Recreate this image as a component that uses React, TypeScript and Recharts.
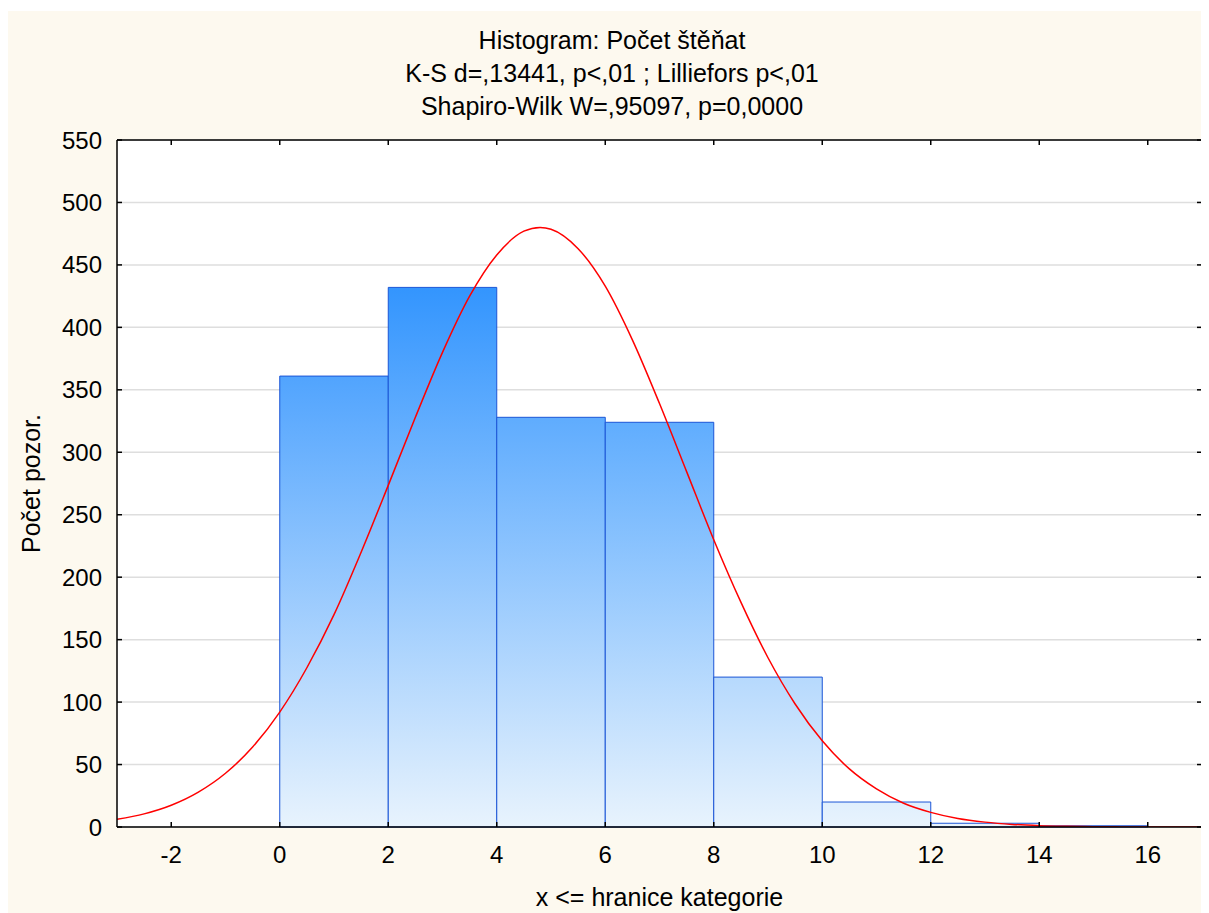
import React from 'react';
import { ComposedChart, Line, XAxis, YAxis, CartesianGrid, ReferenceArea } from 'recharts';

// histogram bins: lower / upper bound and count
const binFrom = [0, 2, 4, 6, 8, 10, 12, 14];
const binTo = [2, 4, 6, 8, 10, 12, 14, 16];
const binCounts = [361, 432, 328, 324, 120, 20, 3, 1];

// fitted normal curve
const curveX = [
  -3, -2.5, -2, -1.5, -1, -0.5, 0, 0.5, 1, 1.5, 2, 2.5, 3, 3.5, 4, 4.5, 4.8, 5, 5.5, 6, 6.5, 7,
  7.5, 8, 8.5, 9, 9.5, 10, 10.5, 11, 11.5, 12, 12.5, 13, 13.5, 14, 14.5, 15, 15.5, 16, 16.5, 17,
];
const curveY = [
  6.1, 10.5, 17.4, 27.9, 43, 64, 92, 127.5, 170, 220, 273.5, 328, 380, 425, 458, 477, 480, 478.6,
  463, 433, 390, 339, 284.5, 230, 180, 135.5, 98.5, 69, 46.5, 30.5, 19, 11.7, 6.8, 3.9, 2.1, 1.1,
  0.6, 0.3, 0.1, 0.1, 0, 0,
];

const xTicks = [-2, 0, 2, 4, 6, 8, 10, 12, 14, 16];
const yTicks = [0, 50, 100, 150, 200, 250, 300, 350, 400, 450, 500, 550];

const titleLines = [
  'Histogram: Počet štěňat',
  'K-S d=,13441, p<,01 ; Lilliefors p<,01',
  'Shapiro-Wilk W=,95097, p=0,0000',
];

const FONT = '"Liberation Sans", Arial, sans-serif';
const DARK = [0x33, 0x95, 0xfe];
const LIGHT = [0xe8, 0xf3, 0xfd];

// colour at the top of a bar, the gradient runs light -> dark with height
function mix(t: number) {
  const c = LIGHT.map((l, i) => Math.round(l + (DARK[i] - l) * t));
  return `rgb(${c[0]},${c[1]},${c[2]})`;
}

const curveData = curveX.map((x, i) => ({ x, fit: curveY[i] }));
const maxCount = Math.max(...binCounts);

function BottomTick({ x, y, payload }: any) {
  return (
    <g>
      <line x1={x} y1={y} x2={x} y2={y - 5} stroke="#000" strokeWidth={1.5} />
      <text x={x} y={y + 36} textAnchor="middle" fontSize={24} fontFamily={FONT} fill="#000">
        {payload.value}
      </text>
    </g>
  );
}

function TopTick({ x, y }: any) {
  return <line x1={x} y1={y} x2={x} y2={y + 5} stroke="#000" strokeWidth={1.5} />;
}

function LeftTick({ x, y, payload }: any) {
  return (
    <g>
      <line x1={x} y1={y} x2={x + 5} y2={y} stroke="#000" strokeWidth={1.5} />
      <text x={x - 15} y={y + 8.5} textAnchor="end" fontSize={24} fontFamily={FONT} fill="#000">
        {payload.value}
      </text>
    </g>
  );
}

function RightTick({ x, y }: any) {
  return <line x1={x} y1={y} x2={x - 5} y2={y} stroke="#000" strokeWidth={1.5} />;
}

export default function App() {
  return (
    <div
      style={{
        position: 'relative',
        width: 1201,
        height: 902,
        marginTop: 3,
        background: '#fdf9ef',
        fontFamily: FONT,
      }}
    >
      <div
        style={{
          position: 'absolute',
          top: 13,
          left: 0,
          width: 1208,
          textAlign: 'center',
          fontSize: 25,
          lineHeight: '33px',
          color: '#000',
        }}
      >
        {titleLines.map((t) => (
          <div key={t}>{t}</div>
        ))}
      </div>
      <ComposedChart
        width={1201}
        height={902}
        data={curveData}
        margin={{ top: 128, right: 6, bottom: 0, left: 0 }}
      >
        <defs>
          {binCounts.map((c, i) => (
            <linearGradient key={i} id={`bin${i}`} x1="0" y1="0" x2="0" y2="1">
              <stop offset="0%" stopColor={mix(c / maxCount)} />
              <stop offset="100%" stopColor={mix(0)} />
            </linearGradient>
          ))}
        </defs>
        <CartesianGrid vertical={false} stroke="#dedede" strokeWidth={1.5} fill="#ffffff" />
        <XAxis
          dataKey="x"
          type="number"
          domain={[-3, 17]}
          ticks={xTicks}
          allowDataOverflow
          height={86}
          tickSize={0}
          tickMargin={0}
          tick={<BottomTick />}
          interval={0}
          axisLine={{ stroke: '#000', strokeWidth: 1.5 }}
          label={{
            value: 'x <= hranice kategorie',
            position: 'insideBottom',
            offset: 7,
            style: { fontSize: 25, fill: '#000', fontFamily: FONT },
          }}
        />
        <XAxis
          xAxisId="top"
          orientation="top"
          dataKey="x"
          type="number"
          domain={[-3, 17]}
          ticks={xTicks}
          allowDataOverflow
          height={1}
          tickSize={0}
          tickMargin={0}
          tick={<TopTick />}
          interval={0}
          axisLine={{ stroke: '#000', strokeWidth: 1.5 }}
        />
        <YAxis
          type="number"
          domain={[0, 550]}
          ticks={yTicks}
          allowDataOverflow
          width={109}
          tickSize={0}
          tickMargin={0}
          tick={<LeftTick />}
          interval={0}
          axisLine={{ stroke: '#000', strokeWidth: 1.5 }}
          label={{
            value: 'Počet pozor.',
            angle: -90,
            position: 'insideLeft',
            offset: 23,
            style: { textAnchor: 'middle', fontSize: 25, fill: '#000', fontFamily: FONT },
          }}
        />
        <YAxis
          yAxisId="right"
          orientation="right"
          type="number"
          domain={[0, 550]}
          ticks={yTicks}
          allowDataOverflow
          width={1}
          tickSize={0}
          tickMargin={0}
          tick={<RightTick />}
          interval={0}
          axisLine={{ stroke: '#000', strokeWidth: 1.5 }}
        />
        {binCounts.map((c, i) => (
          <ReferenceArea
            key={i}
            x1={binFrom[i]}
            x2={binTo[i]}
            y1={0}
            y2={c}
            fill={`url(#bin${i})`}
            fillOpacity={1}
            stroke="#1b55d6"
            strokeWidth={1}
            ifOverflow="visible"
          />
        ))}
        <Line
          dataKey="fit"
          type="monotone"
          stroke="#ff0000"
          strokeWidth={1.5}
          dot={false}
          activeDot={false}
          isAnimationActive={false}
        />
      </ComposedChart>
    </div>
  );
}
